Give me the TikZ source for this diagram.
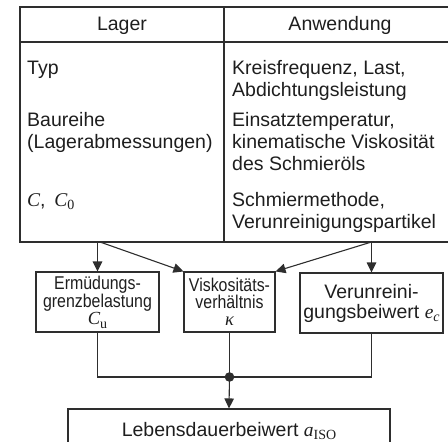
\documentclass[tikz,border=0pt]{standalone}
\usepackage{fontspec}
\setmainfont{Liberation Sans}
\newfontfamily\tms{Liberation Serif}
\usetikzlibrary{arrows.meta}
\definecolor{ink}{HTML}{1E1E1E}
\definecolor{rulegray}{HTML}{2E2E2E}
\newcommand{\narrow}[1]{\scalebox{0.86}[1]{#1}}
\newcommand{\sym}[1]{{\tms\itshape #1}}
\newcommand{\sub}[1]{\raisebox{-0.2em}{\tms\fontsize{14}{14}\selectfont #1}}
\newcommand{\isub}[1]{\raisebox{-0.2em}{\tms\itshape\fontsize{14}{14}\selectfont #1}}
\begin{document}
\begin{tikzpicture}[x=1pt,y=-1pt,
  frame/.style={draw=rulegray,line width=1.1pt},
  cell/.style={inner sep=0pt,anchor=base west,text=ink,font=\fontsize{19.5}{22}\selectfont},
  head/.style={inner sep=0pt,anchor=base,text=ink,font=\fontsize{19.5}{22}\selectfont},
  box/.style={draw=rulegray,line width=1.1pt,inner sep=0pt,align=center,text=ink},
  smallbox/.style={box,font=\fontsize{18.5}{17}\selectfont},
  conn/.style={draw=rulegray,line width=1.1pt},
  tip/.style={-{Triangle[length=10pt,width=9.5pt]}}
]
\useasboundingbox (0,0) rectangle (448,442);

% table of input quantities
\node[frame,minimum width=436pt,minimum height=235pt,inner sep=0pt] (tab) at (238,124.5) {};
\draw[frame] (224,7) -- (224,242);
\draw[draw=rulegray,line width=1.9pt] (20,42) -- (456,42);

\node[head] (hl) at (122,30) {Lager};
\node[head] (hr) at (340,30) {Anwendung};

\node[cell] (l1) at (27,74) {Typ};
\node[cell] (l2) at (27,126) {Baureihe};
\node[cell] (l3) at (27,148) {(Lagerabmessungen)};
\node[cell] (l4) at (27,206) {\sym{C},\, \sym{C}\sub{0}};

\node[cell] (r1) at (232,74) {Kreisfrequenz, Last,};
\node[cell] (r2) at (232,96) {Abdichtungsleistung};
\node[cell] (r3) at (232,126) {Einsatztemperatur,};
\node[cell] (r4) at (232,148) {kinematische Viskosität};
\node[cell] (r5) at (232,170) {des Schmieröls};
\node[cell] (r6) at (232,206) {Schmiermethode,};
\node[cell] (r7) at (232,228) {Verunreinigungspartikel};

% intermediate factors
\node[smallbox,minimum width=123pt,minimum height=60pt] (erm) at (97.5,302)
  {\narrow{Ermüdungs-}\\\narrow{grenzbelastung}\\\sym{C}\sub{u}};
\node[smallbox,minimum width=91pt,minimum height=60pt] (visc) at (229.5,302)
  {\narrow{Viskositäts-}\\\narrow{verhältnis}\\\sym{κ}};
\node[box,font=\fontsize{19.5}{20}\selectfont,minimum width=143pt,minimum height=60pt] (ver) at (371.5,303)
  {Verunreini-\\gungsbeiwert \sym{e}\isub{c}};

% result
\node[box,font=\fontsize{19.5}{22}\selectfont,minimum width=322pt,minimum height=44pt] (life) at (229,431)
  {Lebensdauerbeiwert \sym{a}\sub{ISO}};

% connectors
\coordinate (ta) at (97.5,242);
\coordinate (tb) at (100,242);
\coordinate (tc) at (371.5,242);
\coordinate (j) at (229.5,377);

\draw[conn,tip] (ta) -- (erm.north);
\draw[conn,tip] (tb) -- (visc.north west);
\draw[conn,tip] (tc) -- (visc.north east);
\draw[conn,tip] (tc) -- (ver.north);

\draw[conn] (erm.south) |- (j) -| (ver.south);
\draw[conn] (visc.south) -- (j);
\fill[rulegray] (j) circle (4.8pt);
\draw[conn,tip] (j) -- (life.north);
\end{tikzpicture}
\end{document}
